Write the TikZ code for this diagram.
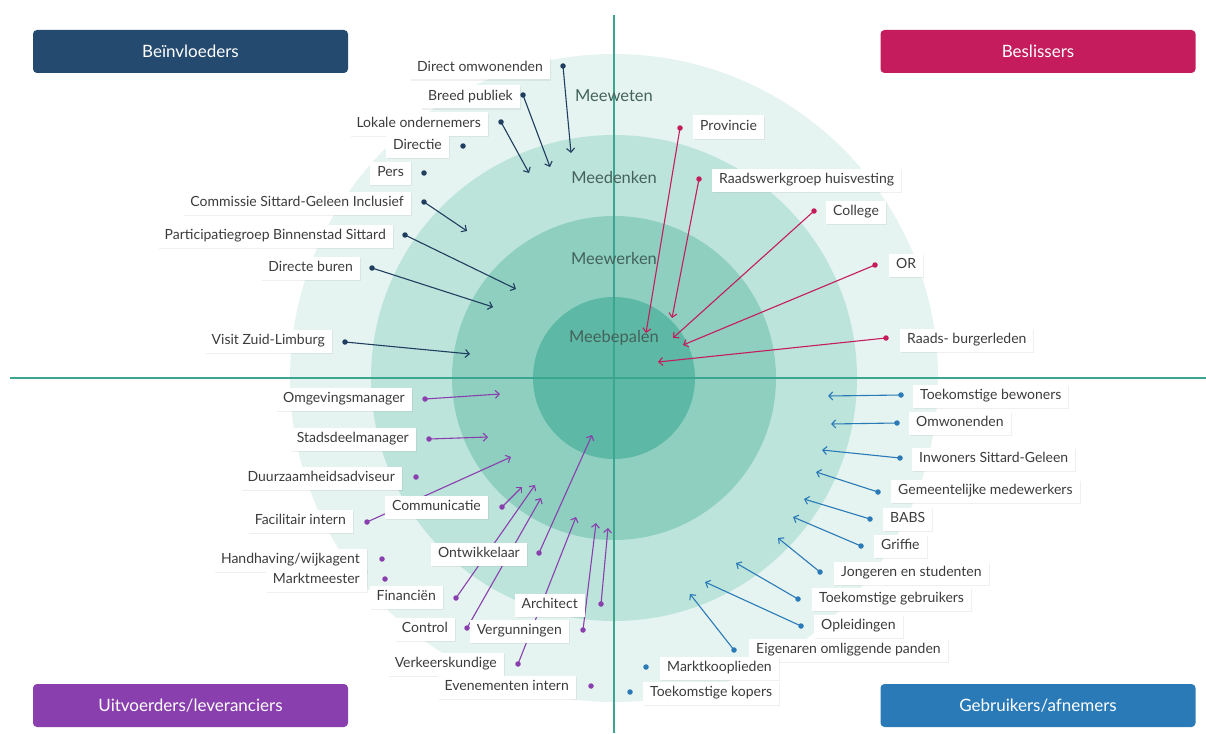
\documentclass[tikz,border=0pt]{standalone}
\usepackage{fontspec}
\setmainfont{Lato}
\usetikzlibrary{arrows.meta,backgrounds,shadows}

\definecolor{ink}{HTML}{3C3C3C}
\definecolor{ringtext}{HTML}{44625C}
\definecolor{axis}{HTML}{3AA690}
\definecolor{ringA}{HTML}{E5F4F0}
\definecolor{ringB}{HTML}{BDE4DB}
\definecolor{ringC}{HTML}{8ECFC0}
\definecolor{ringD}{HTML}{5DB9A5}
\definecolor{navy}{HTML}{1F3E60}
\definecolor{navyhead}{HTML}{244A6F}
\definecolor{crimson}{HTML}{C51C5D}
\definecolor{violet}{HTML}{8A3FAE}
\definecolor{ocean}{HTML}{2A7AB8}

% rings at the bottom, arrows above them, labels on top
\pgfdeclarelayer{wires}
\pgfsetlayers{background,wires,main}

\tikzset{
  head/.style={rounded corners=4pt,fill=#1,text=white,minimum width=315pt,
               minimum height=43pt,font=\fontsize{17}{19}\selectfont},
  tag/.style={fill=white,text=ink,inner xsep=7pt,inner ysep=0pt,minimum height=23pt,
              text height=10pt,text depth=3pt,font=\fontsize{14}{16}\selectfont,
              drop shadow={opacity=0.12,shadow xshift=1pt,shadow yshift=-1.2pt}},
  dot/.style={circle,fill=#1,inner sep=0pt,minimum size=5.5pt},
  arrow/.style={-{Straight Barb[length=4pt,width=8pt]},line width=1.1pt,color=#1},
  ring/.style={font=\fontsize{16.5}{18}\selectfont,text=ringtext},
}

\begin{document}
\begin{tikzpicture}[x=1pt,y=-1pt]
  \useasboundingbox (0,0) rectangle (1206,733);

  % participation rings
  \begin{pgfonlayer}{background}
    \fill[white] (0,0) rectangle (1206,733);
    \foreach \r/\col in {324/ringA,243/ringB,162/ringC,81/ringD}
      \fill[\col] (614,378) circle (\r pt);
    \draw[axis,line width=2pt] (614,15) -- (614,733);
    \draw[axis,line width=2pt] (10,378) -- (1206,378);
    \foreach \i/\txt/\y in {0/Meeweten/96,1/Meedenken/177,2/Meewerken/258,3/Meebepalen/338}
      \node[ring] (r\i) at (614,\y) {\txt};
  \end{pgfonlayer}

  % quadrant headers
  \node[head=navyhead] (hb) at (190.5,51.5) {Beïnvloeders};
  \node[head=crimson] (hs) at (1038,51.5) {Beslissers};
  \node[head=violet] (hu) at (190.5,705.5) {Uitvoerders/leveranciers};
  \node[head=ocean] (hg) at (1038,705.5) {Gebruikers/afnemers};

  % Beinvloeders
  \foreach \i/\txt/\lx/\ly/\dx/\dy/\ex/\ey in {
      1/{Direct omwonenden}/550/68/563/66/571/153,
      2/{Breed publiek}/520/97/523/95/550/167,
      3/{Lokale ondernemers}/488/124/501/122/529/173,
      4/{Commissie Sittard-Geleen Inclusief}/411/203/424/202/467/231,
      5/{Participatiegroep Binnenstad Sittard}/393/236/405/235/516/289,
      6/{Directe buren}/360/268/372/268/493/307,
      7/{Visit Zuid-Limburg}/332/341/345/342/470/354%
    }{
      \node[tag,anchor=east] (b\i) at (\lx,\ly) {\txt};
      \node[dot=navy] (bd\i) at (\dx,\dy) {};
      \coordinate (be\i) at (\ex,\ey);
      \begin{pgfonlayer}{wires}
        \draw[arrow=navy] (bd\i.center) -- (be\i);
      \end{pgfonlayer}
    }
  \foreach \i/\txt/\lx/\ly/\dx/\dy in {8/Directie/449/146/463/146, 9/Pers/411/173/424/173}{
      \node[tag,anchor=east] (b\i) at (\lx,\ly) {\txt};
      \node[dot=navy] (bd\i) at (\dx,\dy) {};
    }

  % Beslissers
  \foreach \i/\txt/\lx/\ly/\dx/\dy/\ex/\ey in {
      1/Provincie/693/127/680/128/646/333,
      2/{Raadswerkgroep huisvesting}/712/180/699/179/672/318,
      3/College/826/212/814/211/673/338,
      4/OR/889/265/875/265/683/345,
      5/{Raads- burgerleden}/900/340/886/338/658/362%
    }{
      \node[tag,anchor=west] (s\i) at (\lx,\ly) {\txt};
      \node[dot=crimson] (sd\i) at (\dx,\dy) {};
      \coordinate (se\i) at (\ex,\ey);
      \begin{pgfonlayer}{wires}
        \draw[arrow=crimson] (sd\i.center) -- (se\i);
      \end{pgfonlayer}
    }

  % Uitvoerders/leveranciers
  \foreach \i/\txt/\lx/\ly/\dx/\dy/\ex/\ey in {
      1/Omgevingsmanager/412/399/425/399/500/394,
      2/Stadsdeelmanager/416/439/429/439/488/437,
      3/{Facilitair intern}/353/521/367/522/511/457,
      4/Communicatie/488/507/502/507/522/487,
      5/Ontwikkelaar/527/554/539/553/592/435,
      6/Financiën/443/597/456/598/535/485,
      7/Control/455/629/467/628/541/498,
      8/Verkeerskundige/504/664/518/664/576/517,
      9/Vergunningen/569/631/583/630/596/523,
      10/Architect/585/605/601/604/608/528%
    }{
      \node[tag,anchor=east] (u\i) at (\lx,\ly) {\txt};
      \node[dot=violet] (ud\i) at (\dx,\dy) {};
      \coordinate (ue\i) at (\ex,\ey);
      \begin{pgfonlayer}{wires}
        \draw[arrow=violet] (ud\i.center) -- (ue\i);
      \end{pgfonlayer}
    }
  \foreach \i/\txt/\lx/\ly/\dx/\dy in {
      11/Duurzaamheidsadviseur/402/478/416/477,
      12/{Handhaving/wijkagent}/367/560/382/559,
      13/Marktmeester/367/580/385/579,
      14/{Evenementen intern}/576/687/591/686%
    }{
      \node[tag,anchor=east] (u\i) at (\lx,\ly) {\txt};
      \node[dot=violet] (ud\i) at (\dx,\dy) {};
    }

  % Gebruikers/afnemers
  \foreach \i/\txt/\lx/\ly/\dx/\dy/\ex/\ey in {
      1/{Toekomstige bewoners}/913/396/901/395/828/396,
      2/Omwonenden/909/423/897/423/831/424,
      3/{Inwoners Sittard-Geleen}/912/459/900/458/822/450,
      4/{Gemeentelijke medewerkers}/891/491/878/492/816/472,
      5/BABS/883/519/870/519/804/499,
      6/Griffie/874/546/861/546/793/517,
      7/{Jongeren en studenten}/834/573/820/572/778/538,
      8/{Toekomstige gebruikers}/812/599/798/599/736/563,
      9/Opleidingen/814/626/801/626/705/582,
      10/{Eigenaren omliggende panden}/749/650/734/650/690/594%
    }{
      \node[tag,anchor=west] (g\i) at (\lx,\ly) {\txt};
      \node[dot=ocean] (gd\i) at (\dx,\dy) {};
      \coordinate (ge\i) at (\ex,\ey);
      \begin{pgfonlayer}{wires}
        \draw[arrow=ocean] (gd\i.center) -- (ge\i);
      \end{pgfonlayer}
    }
  \foreach \i/\txt/\lx/\ly/\dx/\dy in {
      11/Marktkooplieden/660/668/646/667,
      12/{Toekomstige kopers}/643/693/630/692%
    }{
      \node[tag,anchor=west] (g\i) at (\lx,\ly) {\txt};
      \node[dot=ocean] (gd\i) at (\dx,\dy) {};
    }
\end{tikzpicture}
\end{document}
